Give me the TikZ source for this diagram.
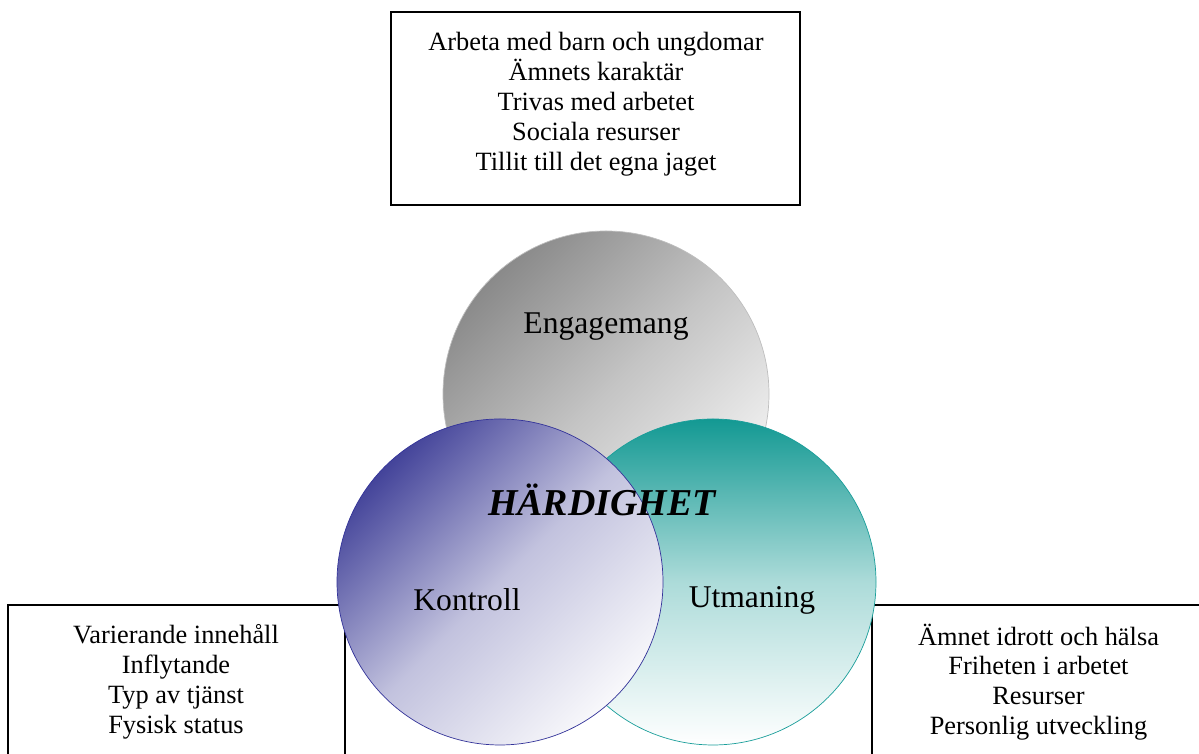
\documentclass[tikz,border=0pt]{standalone}
\usepackage{fontspec}
\setmainfont{Liberation Serif}
\usepackage{tikz}
\usetikzlibrary{positioning}

\definecolor{engdark}{HTML}{8A8A8A}
\definecolor{englight}{HTML}{F4F4F4}
\definecolor{engline}{HTML}{BEBEBE}
\definecolor{kondark}{HTML}{44449A}
\definecolor{konlight}{HTML}{F8F8FB}
\definecolor{konline}{HTML}{333399}
\definecolor{utmdark}{HTML}{139993}
\definecolor{utmline}{HTML}{1A9E9A}

\begin{document}
\begin{tikzpicture}[
        box/.style={draw, line width=0.8pt, inner sep=0pt},
        boxtext/.style={align=center, font=\fontsize{15}{17}\selectfont},
        ring/.style={circle, minimum size=6.52cm, inner sep=0pt, line width=0.4pt},
        ringlabel/.style={font=\fontsize{18}{20}\selectfont}]
            \useasboundingbox (0,0) rectangle (23.98,15.08);
            \clip (0,0) rectangle (23.98,15.08);

            \node[box, minimum width=8.18cm, minimum height=3.86cm] (topbox) at (11.91,12.91) {};
            \node[boxtext] (toptext) at (11.92,13.0) {Arbeta med barn och ungdomar\\ Ämnets karaktär\\ Trivas med arbetet\\ Sociala resurser\\ Tillit till det egna jaget};

            \node[box, minimum width=6.74cm, minimum height=4cm] (leftbox) at (3.53,0.98) {};
            \node[boxtext] (lefttext) at (3.52,1.44) {Varierande innehåll\\ Inflytande\\ Typ av tjänst\\ Fysisk status};

            \node[box, minimum width=6.68cm, minimum height=4cm] (rightbox) at (20.78,0.98) {};
            \node[boxtext] (righttext) at (20.77,1.44) {Ämnet idrott och hälsa\\ Friheten i arbetet\\ Resurser\\ Personlig utveckling};

            \node[ring, draw=engline, top color=engdark, bottom color=englight, middle color=engdark!45!englight, shading angle=45] (eng) at (12.12,7.2) {};
            \node[ring, draw=utmline, top color=utmdark, bottom color=white, middle color=utmdark!35!white] (utm) at (14.26,3.44) {};
            \node[ring, draw=konline, top color=kondark, bottom color=konlight, middle color=kondark!30!konlight, shading angle=45] (kon) at (10.0,3.44) {};

            \node[ringlabel] (englabel) at (12.12,8.54) {Engagemang};
            \node[ringlabel] (konlabel) at (9.34,3.08) {Kontroll};
            \node[ringlabel] (utmlabel) at (15.04,3.08) {Utmaning};
            \node[font=\fontsize{21.6}{24}\selectfont\bfseries\itshape] (hard) at (12.04,5.08) {HÄRDIGHET};
        \end{tikzpicture}
\end{document}
